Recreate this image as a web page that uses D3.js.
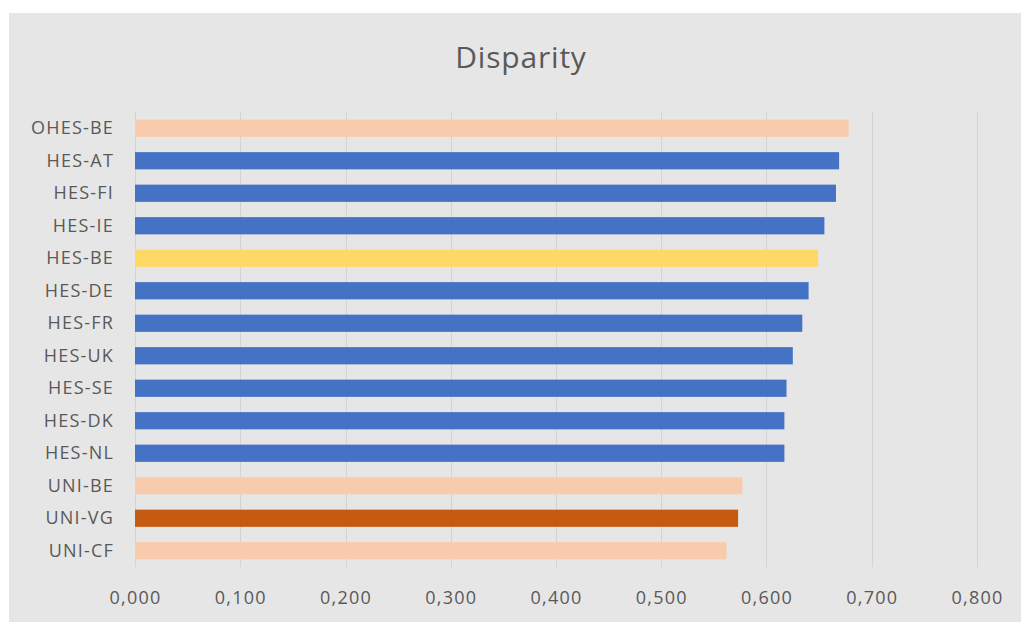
<!DOCTYPE html>
<html>
<head>
<meta charset="utf-8">
<script src="https://cdn.jsdelivr.net/npm/d3@7"></script>
<style>
  html, body { margin: 0; padding: 0; background: #ffffff; }
  svg { display: block; }
</style>
</head>
<body>
<svg id="chart" width="1021" height="622"></svg>
<script>
// Disparity per institution group, top to bottom
const categories = ["OHES-BE", "HES-AT", "HES-FI", "HES-IE", "HES-BE", "HES-DE", "HES-FR",
                    "HES-UK", "HES-SE", "HES-DK", "HES-NL", "UNI-BE", "UNI-VG", "UNI-CF"];
const values = [0.678, 0.669, 0.666, 0.655, 0.649, 0.640, 0.634,
                0.625, 0.619, 0.617, 0.617, 0.577, 0.573, 0.562];
const groups = ["ohes", "hes", "hes", "hes", "hes-be", "hes", "hes",
                "hes", "hes", "hes", "hes", "uni", "uni-vg", "uni"];
const tickValues = [0, 0.1, 0.2, 0.3, 0.4, 0.5, 0.6, 0.7, 0.8];
const title = "Disparity";

const colorOf = {
  "ohes": "#f8cbad",
  "hes": "#4472c4",
  "hes-be": "#ffd966",
  "uni": "#f8cbad",
  "uni-vg": "#c55a11"
};

const W = 1021, H = 622;
const margin = { left: 135, right: 44, top: 112, bottom: 55 };
const textColor = "#595959";
const font = "'Open Sans', 'Liberation Sans', sans-serif";

const svg = d3.select("#chart");

// chart area background
svg.append("rect")
  .attr("x", 9).attr("y", 13)
  .attr("width", W - 9).attr("height", H - 13)
  .attr("fill", "#e7e6e6");

const x = d3.scaleLinear().domain([0, 0.8]).range([margin.left, W - margin.right]);
const y = d3.scaleBand().domain(categories)
  .range([margin.top, H - margin.bottom])
  .paddingInner(0.47).paddingOuter(0.235);

// vertical gridlines
svg.append("g")
  .selectAll("line")
  .data(tickValues)
  .join("line")
  .attr("x1", d => Math.round(x(d)) + 0.5)
  .attr("x2", d => Math.round(x(d)) + 0.5)
  .attr("y1", margin.top)
  .attr("y2", H - margin.bottom)
  .attr("stroke", "#d4d2d2")
  .attr("stroke-width", 1);

// bars
svg.append("g")
  .selectAll("rect")
  .data(categories)
  .join("rect")
  .attr("x", x(0))
  .attr("y", d => y(d))
  .attr("height", y.bandwidth())
  .attr("width", (d, i) => x(values[i]) - x(0))
  .attr("fill", (d, i) => colorOf[groups[i]]);

// category axis
const yAxis = d3.axisLeft(y).tickSize(0).tickPadding(21);
const gy = svg.append("g")
  .attr("transform", `translate(${margin.left},0)`)
  .call(yAxis);
gy.select(".domain").remove();
gy.selectAll("text")
  .attr("fill", textColor)
  .style("font-family", font)
  .style("font-size", "18px")
  .style("letter-spacing", "1.2px");

// value axis
const fmt = v => d3.format(".3f")(v).replace(".", ",");
const xAxis = d3.axisBottom(x).tickValues(tickValues).tickFormat(fmt).tickSize(0).tickPadding(24);
const gx = svg.append("g")
  .attr("transform", `translate(0,${H - margin.bottom})`)
  .call(xAxis);
gx.select(".domain").remove();
gx.selectAll("text")
  .attr("fill", textColor)
  .style("font-family", font)
  .style("font-size", "18px")
  .style("letter-spacing", "1.2px");

// title
svg.append("text")
  .attr("x", 521)
  .attr("y", 68)
  .attr("text-anchor", "middle")
  .attr("fill", textColor)
  .style("font-family", font)
  .style("font-size", "30px")
  .style("letter-spacing", "0.8px")
  .text(title);
</script>
</body>
</html>
